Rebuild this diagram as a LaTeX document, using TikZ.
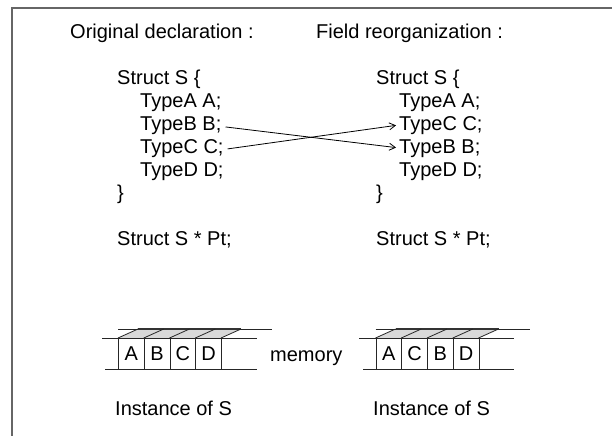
\documentclass[tikz,border=0pt]{standalone}
\usepackage{fontspec}
\setmainfont{Liberation Sans}
\usetikzlibrary{arrows.meta}
\begin{document}
\begin{tikzpicture}[x=1pt,y=-1pt,
  txt/.style={anchor=base west,inner sep=0pt,font=\fontsize{20}{24}\selectfont},
  row/.style={txt,text height=14.3pt,text depth=4.2pt},
  cell/.style={draw=black!85,line width=0.8pt,minimum width=25.75pt,minimum height=31pt,inner sep=0pt,anchor=north west,font=\fontsize{20}{24}\selectfont},
  ln/.style={line width=0.8pt,draw=black!85},
  topface/.style={fill=black!15},
  arr/.style={line width=0.8pt,-{Straight Barb[length=6pt,width=7pt]},shorten <=4pt,shorten >=3pt},
  frame/.style={line width=1.5pt,draw=black!60}]
\useasboundingbox (0,0) rectangle (612,436);
\fill[white] (0,0) rectangle (612,436);
% frame
\draw[frame] (612,8) -- (12,8) -- (12,436);
% titles
\node[txt] (t1) at (70,39) {Original declaration :};
\node[txt] (t2) at (316,39) {Field reorganization :};
% left declaration
\node[txt] (ls) at (117,84) {Struct S \{};
\node[row] (la) at (140,107) {TypeA A;};
\node[row] (lb) at (140,130) {TypeB B;};
\node[row] (lc) at (140,153) {TypeC C;};
\node[row] (ld) at (140,176) {TypeD D;};
\node[txt] (le) at (117,199) {\}};
\node[txt] (lp) at (117,245) {Struct S * Pt;};
% right declaration
\node[txt] (rs) at (376,84) {Struct S \{};
\node[row] (ra) at (399,107) {TypeA A;};
\node[row] (rc) at (399,130) {TypeC C;};
\node[row] (rb) at (399,153) {TypeB B;};
\node[row] (rd) at (399,176) {TypeD D;};
\node[txt] (re) at (376,199) {\}};
\node[txt] (rp) at (376,245) {Struct S * Pt;};
% arrows
\draw[arr] ([yshift=-1.5pt]lb.east) -- (rb.west);
\draw[arr] ([yshift=-1.5pt]lc.east) -- (rc.west);
% left memory
\fill[topface] (118,338) -- (221,338) -- (241,329) -- (138,329) -- cycle;
\draw[ln] (118,329) -- (272,329);
\draw[line width=1.4pt,black!80] (138,329) -- (241,329);
\draw[ln] (102,338) -- (257,338);
\draw[ln] (105,369) -- (257,369);
\foreach \x in {118,143.75,169.5,195.25,221}{\draw[ln] (\x,338) -- (\x+20,329);}
\node[cell] (m1) at (118,338) {A};
\node[cell] (m2) at (143.75,338) {B};
\node[cell] (m3) at (169.5,338) {C};
\node[cell] (m4) at (195.25,338) {D};
% right memory
\fill[topface] (375.5,338) -- (478.5,338) -- (498.5,329) -- (395.5,329) -- cycle;
\draw[ln] (375.5,329) -- (530,329);
\draw[line width=1.4pt,black!80] (395.5,329) -- (498.5,329);
\draw[ln] (359,338) -- (514,338);
\draw[ln] (363,369) -- (514,369);
\foreach \x in {375.5,401.25,427,452.75,478.5}{\draw[ln] (\x,338) -- (\x+20,329);}
\node[cell] (n1) at (375.5,338) {A};
\node[cell] (n2) at (401.25,338) {C};
\node[cell] (n3) at (427,338) {B};
\node[cell] (n4) at (452.75,338) {D};
% labels
\node[txt] (mem) at (270,361) {memory};
\node[txt] (li) at (115,415) {Instance of S};
\node[txt] (ri) at (373,415) {Instance of S};
\end{tikzpicture}
\end{document}
